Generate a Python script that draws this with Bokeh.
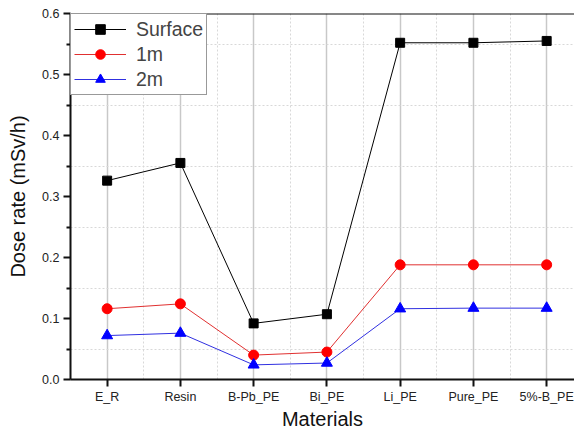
from bokeh.plotting import figure
from bokeh.models import FixedTicker, Span, Range1d, Legend, LegendItem
from bokeh.embed import file_html
from bokeh.resources import INLINE

materials = ["E_R", "Resin", "B-Pb_PE", "Bi_PE", "Li_PE", "Pure_PE", "5%-B_PE"]
surface = [0.326, 0.355, 0.092, 0.107, 0.552, 0.552, 0.555]
one_m = [0.116, 0.124, 0.040, 0.045, 0.188, 0.188, 0.188]
two_m = [0.072, 0.076, 0.024, 0.027, 0.116, 0.117, 0.117]
y_ticks = [0.0, 0.1, 0.2, 0.3, 0.4, 0.5, 0.6]

x = list(range(1, len(materials) + 1))
FONT = "Liberation Sans"

p = figure(width=574, height=432, output_backend="svg", toolbar_location=None,
           x_range=Range1d(0.5, 7.38), y_range=Range1d(0.0, 0.6),
           min_border_left=70, min_border_right=0, min_border_top=13, min_border_bottom=0)
p.outline_line_color = None
p.background_fill_color = "white"
p.border_fill_color = "white"

p.xaxis.ticker = FixedTicker(ticks=x, minor_ticks=[i + 0.5 for i in range(0, 8)])
p.xaxis.major_label_overrides = {i: m for i, m in zip(x, materials)}
p.yaxis.ticker = FixedTicker(ticks=y_ticks, minor_ticks=[0.05 + 0.1 * i for i in range(6)])
p.yaxis.formatter.use_scientific = False
p.yaxis.major_label_overrides = {t: f"{t:.1f}" for t in y_ticks}

for ax in (p.xaxis, p.yaxis):
    ax.axis_line_width = 2
    ax.axis_line_color = "#111111"
    ax.major_tick_line_color = "#111111"
    ax.major_tick_line_width = 2
    ax.major_tick_out = 7
    ax.major_tick_in = 0
    ax.major_label_text_font = FONT
    ax.major_label_text_font_size = "12.5px"
    ax.major_label_text_color = "#222222"
    ax.axis_label_text_font = FONT
    ax.axis_label_text_font_size = "20px"
    ax.axis_label_text_font_style = "normal"
    ax.axis_label_text_color = "#111111"
p.xaxis.minor_tick_line_color = None
p.yaxis.minor_tick_line_color = "#111111"
p.yaxis.minor_tick_line_width = 2
p.yaxis.minor_tick_out = 4
p.yaxis.minor_tick_in = 0
p.xaxis.axis_label = "Materials"
p.yaxis.axis_label = "Dose rate (mSv/h)"
p.xaxis.major_label_standoff = 3
p.xaxis.axis_label_standoff = 1
p.yaxis.major_label_standoff = 4
p.yaxis.axis_label_standoff = 10

p.xgrid.grid_line_color = "#c8c8c8"
p.xgrid.grid_line_width = 1.5
p.xgrid.minor_grid_line_color = "#d8d8d8"
p.xgrid.minor_grid_line_dash = "2 2"
p.ygrid.grid_line_color = None
p.ygrid.minor_grid_line_color = "#d8d8d8"
p.ygrid.minor_grid_line_dash = "2 2"

p.add_layout(Span(location=0.6, dimension="width", line_color="#111111", line_width=2))

l1 = p.line(x, surface, line_color="black", line_width=1)
s1 = p.scatter(x, surface, marker="square", size=9, fill_color="black", line_color="black")
l2 = p.line(x, one_m, line_color="#e03030", line_width=1)
s2 = p.scatter(x, one_m, marker="circle", size=10, fill_color="red", line_color="red")
l3 = p.line(x, two_m, line_color="#3030e0", line_width=1)
s3 = p.scatter(x, two_m, marker="triangle", size=11, fill_color="blue", line_color="blue")

legend = Legend(items=[LegendItem(label="Surface", renderers=[l1, s1]),
                       LegendItem(label="1m", renderers=[l2, s2]),
                       LegendItem(label="2m", renderers=[l3, s3])],
                location="top_left", margin=0, padding=3, spacing=1,
                glyph_width=52, glyph_height=24, label_height=24, label_standoff=10,
                label_text_font=FONT, label_text_font_size="19.5px",
                border_line_color="#333333", border_line_width=1,
                background_fill_color="white", background_fill_alpha=1)
p.add_layout(legend)

open("out.html", "w").write(file_html(p, INLINE))
